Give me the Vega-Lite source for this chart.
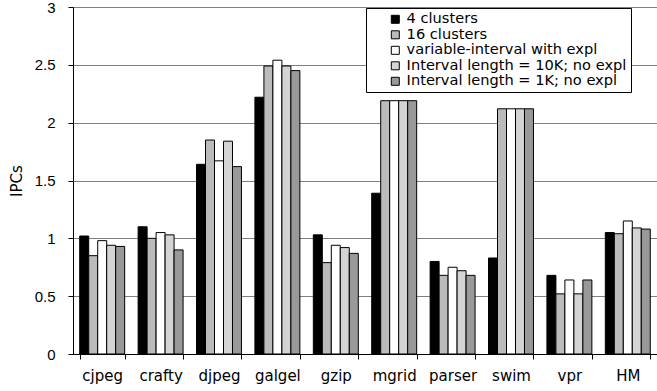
{
  "$schema": "https://vega.github.io/schema/vega-lite/v6.json",
  "width": 584,
  "height": 347,
  "autosize": {"type": "none"},
  "padding": {"left": 73, "top": 7, "right": 0, "bottom": 37},
  "background": "white",
  "config": {
    "font": "DejaVu Sans",
    "view": {"stroke": null}
  },
  "data": {
    "values": [
      {"bench": "cjpeg", "config": "4 clusters", "ipc": 1.02},
      {"bench": "cjpeg", "config": "16 clusters", "ipc": 0.85},
      {"bench": "cjpeg", "config": "variable-interval with expl", "ipc": 0.98},
      {"bench": "cjpeg", "config": "Interval length = 10K; no expl", "ipc": 0.94},
      {"bench": "cjpeg", "config": "Interval length = 1K; no expl", "ipc": 0.93},
      {"bench": "crafty", "config": "4 clusters", "ipc": 1.10},
      {"bench": "crafty", "config": "16 clusters", "ipc": 1.00},
      {"bench": "crafty", "config": "variable-interval with expl", "ipc": 1.05},
      {"bench": "crafty", "config": "Interval length = 10K; no expl", "ipc": 1.03},
      {"bench": "crafty", "config": "Interval length = 1K; no expl", "ipc": 0.90},
      {"bench": "djpeg", "config": "4 clusters", "ipc": 1.64},
      {"bench": "djpeg", "config": "16 clusters", "ipc": 1.85},
      {"bench": "djpeg", "config": "variable-interval with expl", "ipc": 1.67},
      {"bench": "djpeg", "config": "Interval length = 10K; no expl", "ipc": 1.84},
      {"bench": "djpeg", "config": "Interval length = 1K; no expl", "ipc": 1.62},
      {"bench": "galgel", "config": "4 clusters", "ipc": 2.22},
      {"bench": "galgel", "config": "16 clusters", "ipc": 2.49},
      {"bench": "galgel", "config": "variable-interval with expl", "ipc": 2.54},
      {"bench": "galgel", "config": "Interval length = 10K; no expl", "ipc": 2.49},
      {"bench": "galgel", "config": "Interval length = 1K; no expl", "ipc": 2.45},
      {"bench": "gzip", "config": "4 clusters", "ipc": 1.03},
      {"bench": "gzip", "config": "16 clusters", "ipc": 0.79},
      {"bench": "gzip", "config": "variable-interval with expl", "ipc": 0.94},
      {"bench": "gzip", "config": "Interval length = 10K; no expl", "ipc": 0.92},
      {"bench": "gzip", "config": "Interval length = 1K; no expl", "ipc": 0.87},
      {"bench": "mgrid", "config": "4 clusters", "ipc": 1.39},
      {"bench": "mgrid", "config": "16 clusters", "ipc": 2.19},
      {"bench": "mgrid", "config": "variable-interval with expl", "ipc": 2.19},
      {"bench": "mgrid", "config": "Interval length = 10K; no expl", "ipc": 2.19},
      {"bench": "mgrid", "config": "Interval length = 1K; no expl", "ipc": 2.19},
      {"bench": "parser", "config": "4 clusters", "ipc": 0.80},
      {"bench": "parser", "config": "16 clusters", "ipc": 0.68},
      {"bench": "parser", "config": "variable-interval with expl", "ipc": 0.75},
      {"bench": "parser", "config": "Interval length = 10K; no expl", "ipc": 0.72},
      {"bench": "parser", "config": "Interval length = 1K; no expl", "ipc": 0.68},
      {"bench": "swim", "config": "4 clusters", "ipc": 0.83},
      {"bench": "swim", "config": "16 clusters", "ipc": 2.12},
      {"bench": "swim", "config": "variable-interval with expl", "ipc": 2.12},
      {"bench": "swim", "config": "Interval length = 10K; no expl", "ipc": 2.12},
      {"bench": "swim", "config": "Interval length = 1K; no expl", "ipc": 2.12},
      {"bench": "vpr", "config": "4 clusters", "ipc": 0.68},
      {"bench": "vpr", "config": "16 clusters", "ipc": 0.52},
      {"bench": "vpr", "config": "variable-interval with expl", "ipc": 0.64},
      {"bench": "vpr", "config": "Interval length = 10K; no expl", "ipc": 0.52},
      {"bench": "vpr", "config": "Interval length = 1K; no expl", "ipc": 0.64},
      {"bench": "HM", "config": "4 clusters", "ipc": 1.05},
      {"bench": "HM", "config": "16 clusters", "ipc": 1.04},
      {"bench": "HM", "config": "variable-interval with expl", "ipc": 1.15},
      {"bench": "HM", "config": "Interval length = 10K; no expl", "ipc": 1.09},
      {"bench": "HM", "config": "Interval length = 1K; no expl", "ipc": 1.08}
    ]
  },
  "mark": {"type": "bar", "stroke": "black", "strokeWidth": 1},
  "encoding": {
    "x": {
      "field": "bench",
      "type": "nominal",
      "sort": null,
      "scale": {"paddingInner": 0.23, "paddingOuter": 0.115},
      "axis": {
        "title": null,
        "labelAngle": 0,
        "labelFont": "DejaVu Sans",
        "labelFontSize": 15,
        "labelColor": "black",
        "labelPadding": 9,
        "tickBand": "extent",
        "tickSize": 5,
        "tickColor": "black",
        "domainColor": "black",
        "grid": false
      }
    },
    "xOffset": {
      "field": "config",
      "type": "nominal",
      "sort": null,
      "scale": {"paddingInner": 0, "paddingOuter": 0}
    },
    "y": {
      "field": "ipc",
      "type": "quantitative",
      "scale": {"domain": [0, 3], "nice": false, "zero": true},
      "axis": {
        "title": "IPCs",
        "titleFont": "DejaVu Sans",
        "titleFontSize": 15,
        "titleFontWeight": "normal",
        "titleColor": "black",
        "titlePadding": 10,
        "values": [0, 0.5, 1, 1.5, 2, 2.5, 3],
        "format": ".1~f",
        "labelFont": "Liberation Sans",
        "labelFontSize": 15,
        "labelColor": "black",
        "labelPadding": 13,
        "tickSize": 5,
        "tickColor": "black",
        "domainColor": "black",
        "grid": true,
        "gridColor": "#808080",
        "gridOpacity": 1,
        "gridWidth": 1
      }
    },
    "color": {
      "field": "config",
      "type": "nominal",
      "sort": null,
      "scale": {
        "domain": ["4 clusters", "16 clusters", "variable-interval with expl", "Interval length = 10K; no expl", "Interval length = 1K; no expl"],
        "range": ["#000000", "#bbbbbb", "#ffffff", "#d4d4d4", "#999999"]
      },
      "legend": {
        "orient": "none",
        "legendX": 293,
        "legendY": 1,
        "title": " ",
        "titleOrient": "left",
        "titlePadding": 18,
        "titleFontSize": 14,
        "direction": "vertical",
        "symbolType": "square",
        "symbolSize": 64,
        "symbolStrokeColor": "black",
        "symbolStrokeWidth": 1,
        "symbolOpacity": 1,
        "labelFont": "DejaVu Sans",
        "labelFontSize": 14.6,
        "labelColor": "black",
        "labelOffset": 4,
        "labelLimit": 400,
        "rowPadding": 0.5,
        "padding": 4,
        "strokeColor": "black",
        "fillColor": "white"
      }
    }
  }
}
